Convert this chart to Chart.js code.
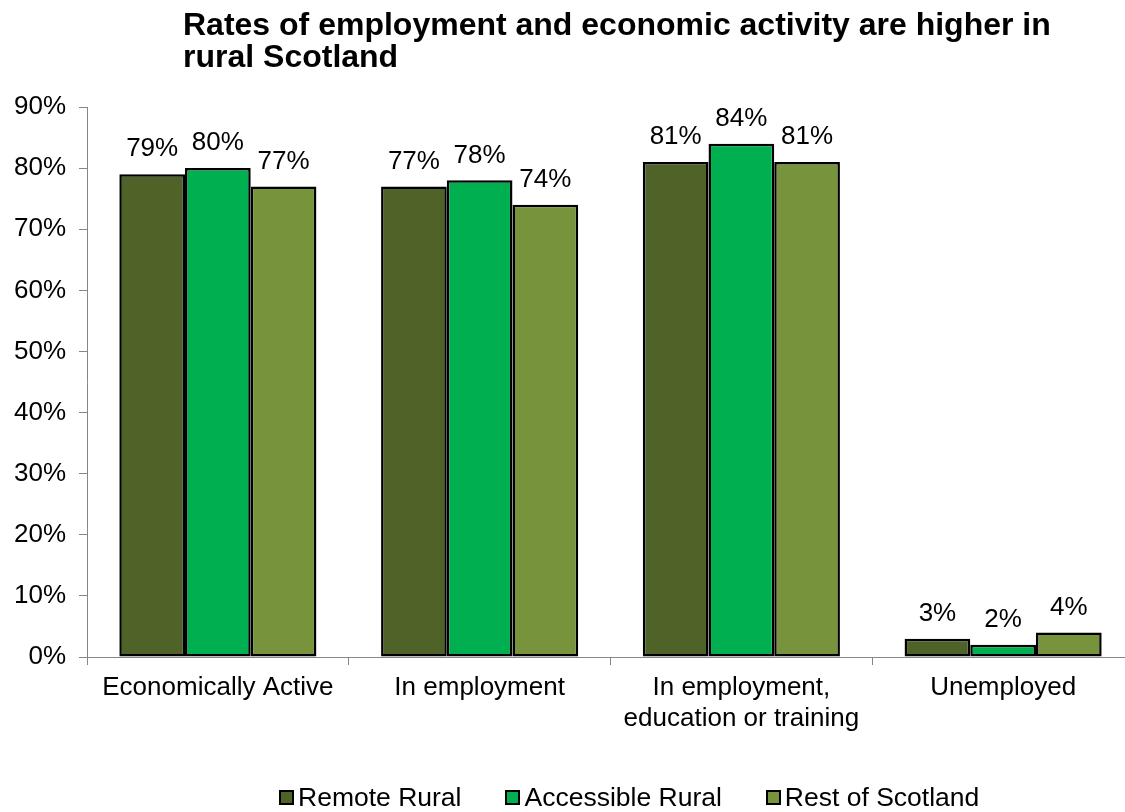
<!DOCTYPE html>
<html lang="en">
<head>
  <title>Employment rates - rural Scotland</title>
  <meta charset="UTF-8">
  <script src="https://cdn.jsdelivr.net/npm/chart.js"></script>
  <style>
    * {
      margin: 0;
      padding: 0;
      box-sizing: border-box;
    }

    html, body {
      width: 1125px;
      height: 812px;
      overflow: hidden;
      background-color: white;
      font-family: 'Liberation Sans', Arial, sans-serif;
    }

    .title {
      position: absolute;
      left: 183px;
      top: 8px;
      font-size: 32px;
      font-weight: bold;
      line-height: 32px;
      color: black;
      z-index: 2;
    }

    .ChartCanvasContainer {
      position: absolute;
      left: 0;
      top: 0;
      width: 1134px;
      height: 812px;
    }

    .legend {
      position: absolute;
      left: 279px;
      top: 782px;
      display: flex;
      align-items: center;
      font-size: 26.5px;
      line-height: 30px;
      color: black;
    }

    .legend-item {
      display: flex;
      align-items: center;
      margin-right: 44px;
    }

    .legend-box {
      width: 15px;
      height: 15px;
      border: 2px solid black;
      margin-right: 4px;
    }
  </style>
</head>
<body>

  <div class="title">Rates of employment and economic activity are higher in<br>rural Scotland</div>

  <div class="ChartCanvasContainer">
    <canvas id="employmentChart"></canvas>
  </div>

  <div class="legend" id="legend"></div>

  <script>

    // categories along the x axis (multi-line label as array)
    var categories = ['Economically Active', 'In employment', ['In employment,', 'education or training'], 'Unemployed'];

    var seriesNames = ['Remote Rural', 'Accessible Rural', 'Rest of Scotland'];
    var seriesColors = ['#4F6228', '#00B050', '#77933C'];

    // values in %
    var remoteRural = [79, 77, 81, 3];
    var accessibleRural = [80, 78, 84, 2];
    var restOfScotland = [77, 74, 81, 4];

    var yTicks = [0, 10, 20, 30, 40, 50, 60, 70, 80, 90];

    var FONT = "'Liberation Sans', Arial, sans-serif";
    var AXIS_GREY = '#868686';

    // draws the "79%" style labels above every bar
    const barLabels = {
      id: 'barLabels',
      afterDatasetsDraw(chart) {
        const ctx = chart.ctx;
        ctx.save();
        ctx.font = '26px ' + FONT;
        ctx.fillStyle = 'black';
        ctx.textAlign = 'center';
        ctx.textBaseline = 'middle';
        chart.data.datasets.forEach(function (ds, i) {
          chart.getDatasetMeta(i).data.forEach(function (bar, j) {
            ctx.fillText(ds.data[j] + '%', bar.x, bar.y - 25);
          });
        });
        ctx.restore();
      }
    };

    var allSeries = [remoteRural, accessibleRural, restOfScotland];
    var datasets = [];
    for (var i = 0; i < allSeries.length; i++) {
      datasets.push({
        label: seriesNames[i],
        data: allSeries[i],
        backgroundColor: seriesColors[i],
        borderColor: 'black',
        borderWidth: 2.5,
        borderSkipped: false,
        barPercentage: 1.0,
        categoryPercentage: 0.753
      });
    }

    const chartLocation = document.getElementById('employmentChart').getContext('2d');
    var EmploymentChart = new Chart(chartLocation, {
      type: 'bar',
      data: {
        labels: categories,
        datasets: datasets
      },
      options: {
        responsive: true,
        maintainAspectRatio: false,
        animation: false,
        layout: {
          padding: { top: 107, left: 0, right: 0, bottom: 0 }
        },
        plugins: {
          legend: { display: false },
          title: { display: false },
          tooltip: { enabled: false }
        },
        scales: {
          x: {
            grid: {
              display: true,
              drawOnChartArea: false,
              drawTicks: true,
              tickLength: 8,
              color: AXIS_GREY,
              offset: true
            },
            border: { color: AXIS_GREY, width: 1 },
            ticks: {
              font: { family: FONT, size: 26, lineHeight: 1.19 },
              color: 'black',
              padding: 7,
              maxRotation: 0,
              autoSkip: false
            },
            afterFit: function (scale) {
              scale.height = 155;
            }
          },
          y: {
            min: 0,
            max: 90,
            afterBuildTicks: function (scale) {
              scale.ticks = yTicks.map(function (v) { return { value: v }; });
            },
            grid: {
              drawOnChartArea: false,
              drawTicks: true,
              tickLength: 8,
              color: AXIS_GREY
            },
            border: { color: AXIS_GREY, width: 1 },
            ticks: {
              font: { family: FONT, size: 26 },
              color: 'black',
              padding: 13,
              callback: function (value) { return value + '%'; }
            },
            afterFit: function (scale) {
              scale.width = 87;
            }
          }
        }
      },
      plugins: [barLabels]
    });

    // legend built from the same series arrays
    var legendDiv = document.getElementById('legend');
    for (var k = 0; k < seriesNames.length; k++) {
      var item = document.createElement('div');
      item.className = 'legend-item';
      var box = document.createElement('span');
      box.className = 'legend-box';
      box.style.backgroundColor = seriesColors[k];
      var txt = document.createElement('span');
      txt.textContent = seriesNames[k];
      item.appendChild(box);
      item.appendChild(txt);
      legendDiv.appendChild(item);
    }

  </script>
</body>
</html>
